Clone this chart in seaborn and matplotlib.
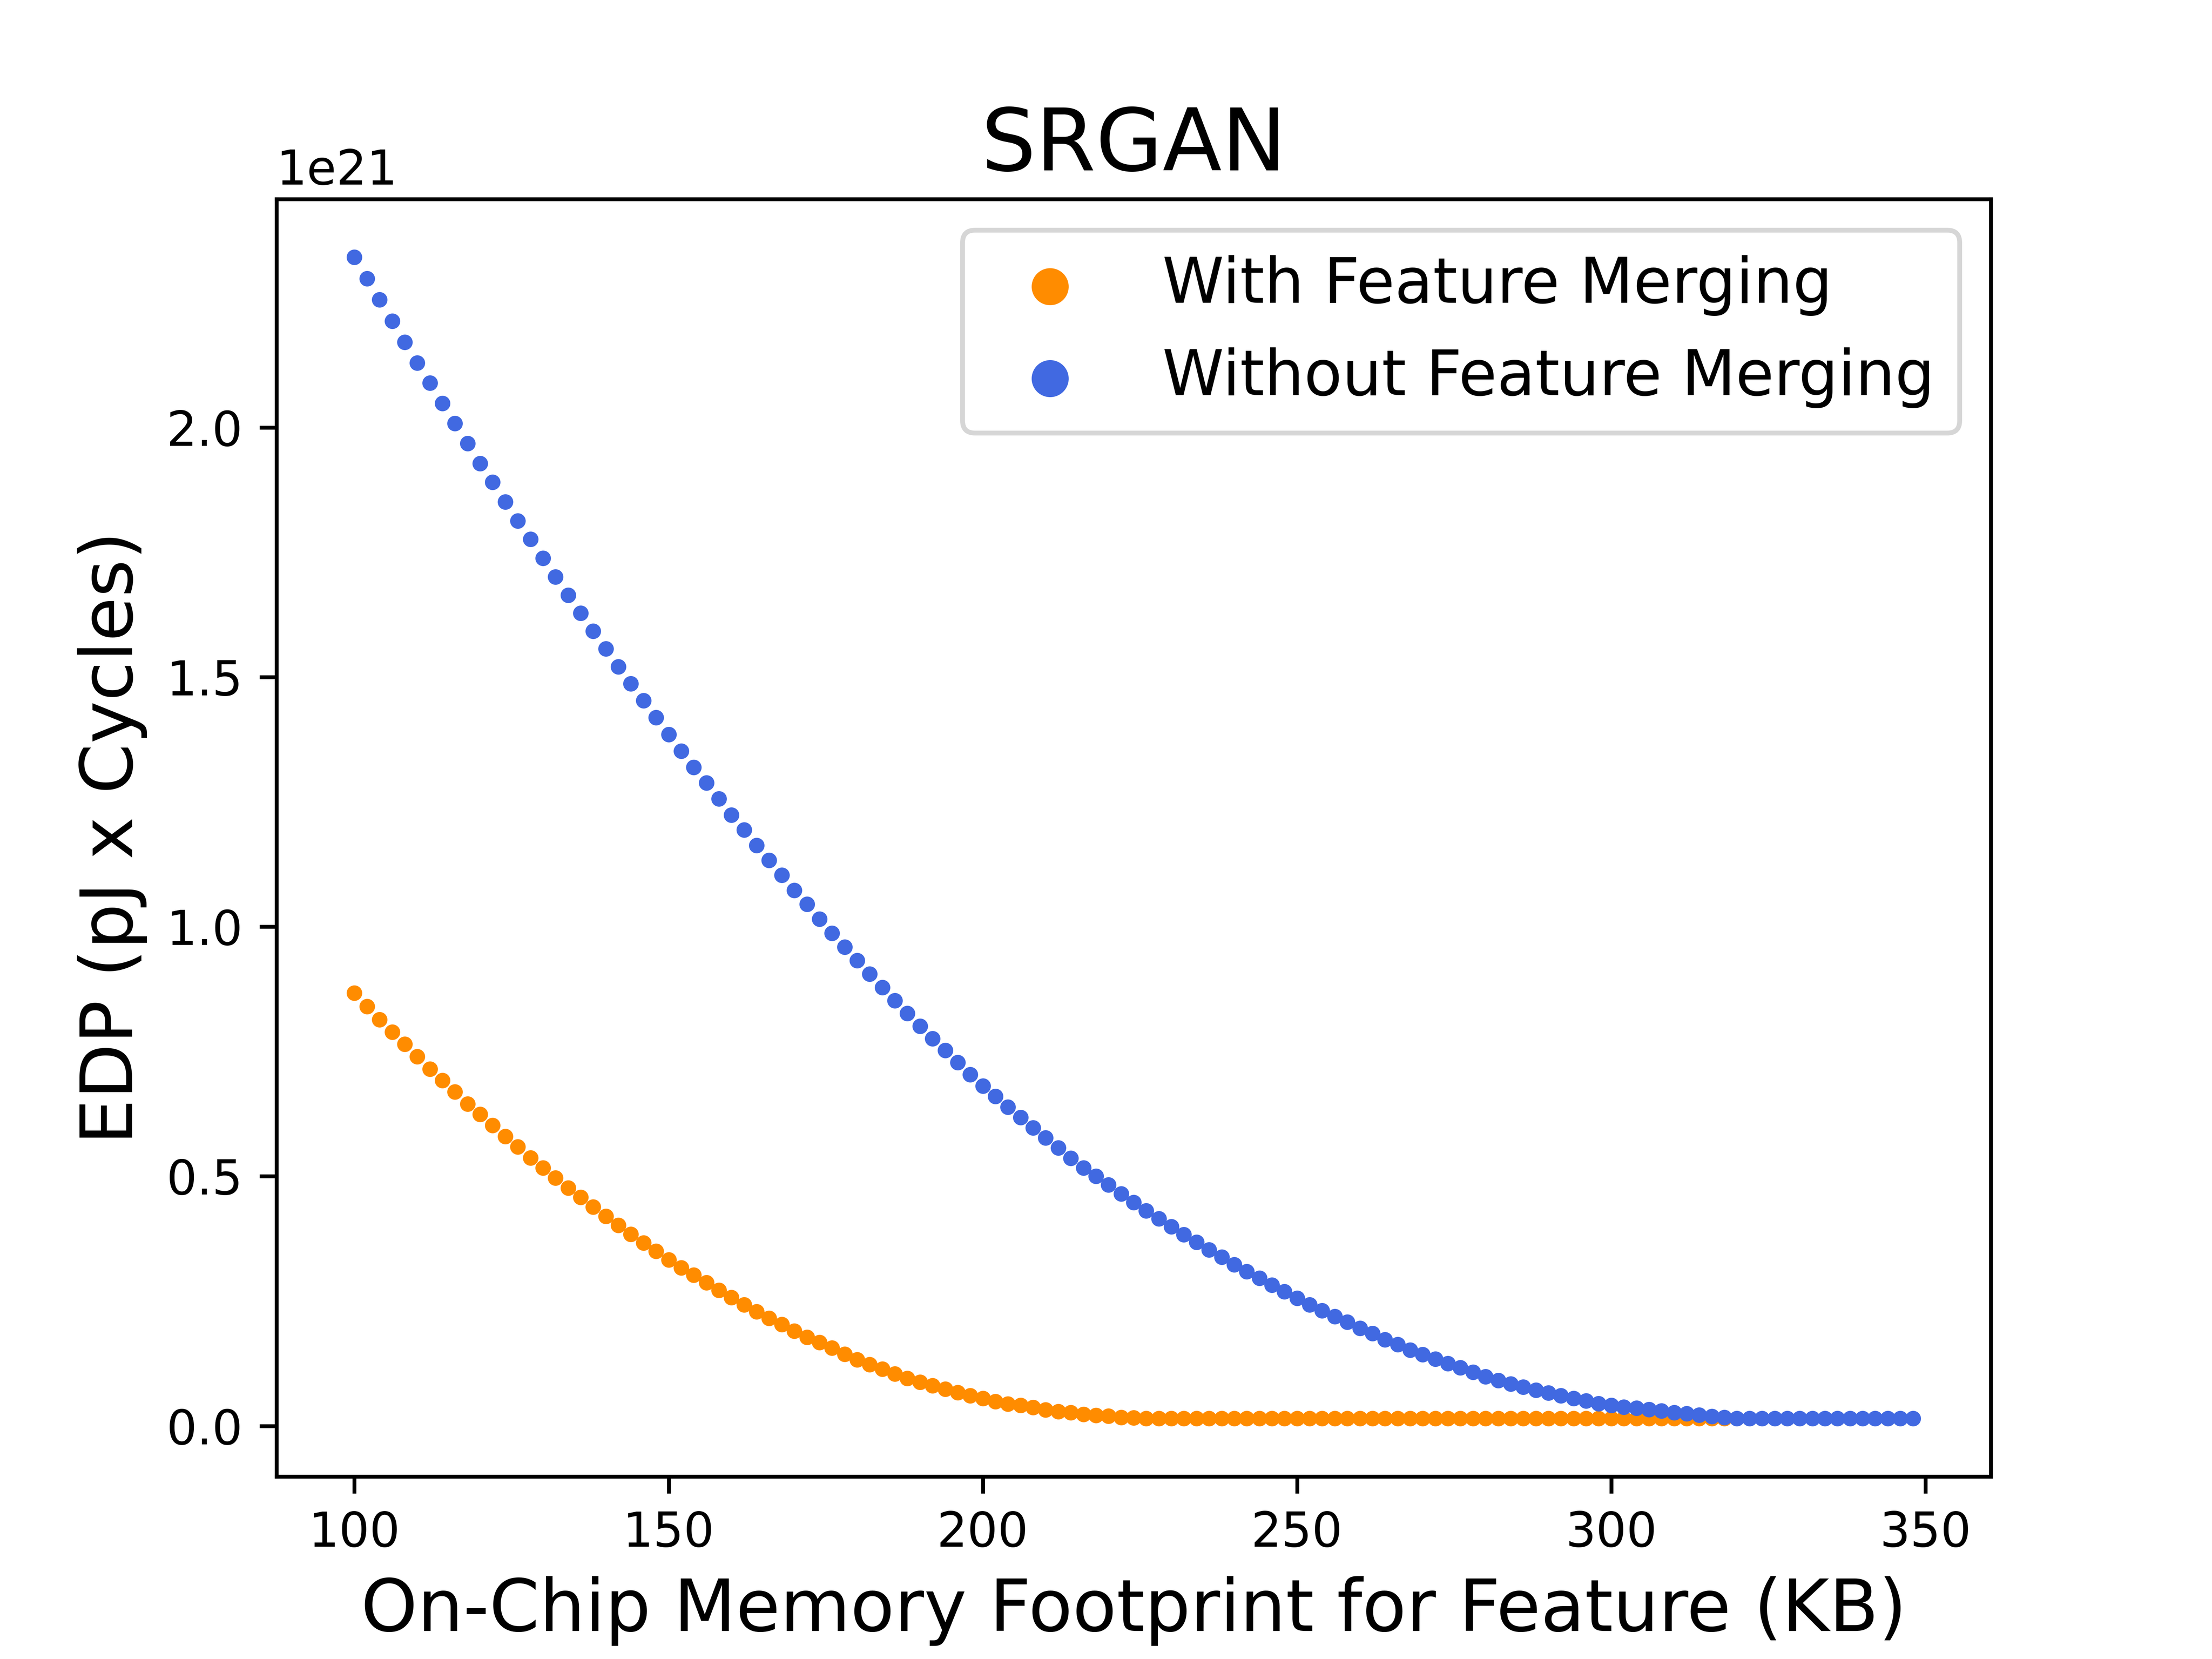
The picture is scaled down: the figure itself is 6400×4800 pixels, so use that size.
import matplotlib
matplotlib.use("Agg")
import matplotlib.pyplot as plt
import seaborn as sns
import pandas as pd

# ---- data (EDP values in units of 1e21) ----
x_with = [100, 102, 104, 106, 108, 110, 112, 114, 116, 118, 120, 122, 124, 126, 128, 130,
          132, 134, 136, 138, 140, 142, 144, 146, 148, 150, 152, 154, 156, 158, 160, 162,
          164, 166, 168, 170, 172, 174, 176, 178, 180, 182, 184, 186, 188, 190, 192, 194,
          196, 198, 200, 202, 204, 206, 208, 210, 212, 214, 216, 218, 220, 222, 224, 226,
          228, 230, 232, 234, 236, 238, 240, 242, 244, 246, 248, 250, 252, 254, 256, 258,
          260, 262, 264, 266, 268, 270, 272, 274, 276, 278, 280, 282, 284, 286, 288, 290,
          292, 294, 296, 298, 300, 302, 304, 306, 308, 310, 312, 314, 316, 318]
edp_with = [0.867, 0.840, 0.814, 0.789, 0.765, 0.740, 0.715, 0.692, 0.669, 0.645, 0.624,
            0.602, 0.580, 0.559, 0.537, 0.517, 0.497, 0.477, 0.458, 0.439, 0.420, 0.402,
            0.384, 0.367, 0.350, 0.333, 0.317, 0.302, 0.287, 0.272, 0.257, 0.243, 0.229,
            0.216, 0.203, 0.190, 0.178, 0.167, 0.156, 0.144, 0.133, 0.123, 0.114, 0.104,
            0.095, 0.088, 0.081, 0.074, 0.067, 0.061, 0.055, 0.049, 0.044, 0.041, 0.037,
            0.032, 0.029, 0.027, 0.023, 0.021, 0.020, 0.017, 0.0165, 0.015, 0.015, 0.015,
            0.015, 0.015, 0.015, 0.015, 0.015, 0.015, 0.015, 0.015, 0.015, 0.015, 0.015,
            0.015, 0.015, 0.015, 0.015, 0.015, 0.015, 0.015, 0.015, 0.015, 0.015, 0.015,
            0.015, 0.015, 0.015, 0.015, 0.015, 0.015, 0.015, 0.015, 0.015, 0.015, 0.015,
            0.015, 0.015, 0.015, 0.015, 0.015, 0.015, 0.015, 0.015, 0.015, 0.015, 0.015]

x_without = [100, 102, 104, 106, 108, 110, 112, 114, 116, 118, 120, 122, 124, 126, 128, 130,
             132, 134, 136, 138, 140, 142, 144, 146, 148, 150, 152, 154, 156, 158, 160, 162,
             164, 166, 168, 170, 172, 174, 176, 178, 180, 182, 184, 186, 188, 190, 192, 194,
             196, 198, 200, 202, 204, 206, 208, 210, 212, 214, 216, 218, 220, 222, 224, 226,
             228, 230, 232, 234, 236, 238, 240, 242, 244, 246, 248, 250, 252, 254, 256, 258,
             260, 262, 264, 266, 268, 270, 272, 274, 276, 278, 280, 282, 284, 286, 288, 290,
             292, 294, 296, 298, 300, 302, 304, 306, 308, 310, 312, 314, 316, 318, 320, 322,
             324, 326, 328, 330, 332, 334, 336, 338, 340, 342, 344, 346, 348]
edp_without = [2.341, 2.298, 2.256, 2.213, 2.171, 2.129, 2.089, 2.048, 2.008, 1.968, 1.928,
               1.890, 1.851, 1.813, 1.776, 1.738, 1.701, 1.664, 1.628, 1.592, 1.557, 1.521,
               1.487, 1.453, 1.419, 1.385, 1.352, 1.319, 1.288, 1.256, 1.224, 1.194, 1.163,
               1.133, 1.103, 1.073, 1.045, 1.015, 0.987, 0.959, 0.932, 0.905, 0.878, 0.852,
               0.826, 0.801, 0.776, 0.752, 0.728, 0.704, 0.681, 0.660, 0.639, 0.618, 0.597,
               0.577, 0.557, 0.536, 0.517, 0.500, 0.483, 0.465, 0.448, 0.431, 0.415, 0.399,
               0.383, 0.368, 0.353, 0.338, 0.323, 0.309, 0.296, 0.282, 0.269, 0.256, 0.243,
               0.231, 0.219, 0.208, 0.196, 0.185, 0.173, 0.163, 0.152, 0.143, 0.134, 0.125,
               0.117, 0.108, 0.099, 0.091, 0.084, 0.078, 0.072, 0.066, 0.061, 0.055, 0.050,
               0.045, 0.041, 0.038, 0.036, 0.033, 0.030, 0.027, 0.025, 0.022, 0.019, 0.017,
               0.015, 0.015, 0.015, 0.015, 0.015, 0.015, 0.015, 0.015, 0.015, 0.015, 0.015,
               0.015, 0.015, 0.015, 0.015]

series_labels = ["With Feature Merging", "Without Feature Merging"]
series_colors = ["darkorange", "royalblue"]
title_text = "SRGAN"
xlabel_text = "On-Chip Memory Footprint for Feature (KB)"
ylabel_text = "EDP (pJ x Cycles)"
unit = 1e21

df_with = pd.DataFrame({"x": x_with, "edp": [v * unit for v in edp_with]})
df_without = pd.DataFrame({"x": x_without, "edp": [v * unit for v in edp_without]})

fig, ax = plt.subplots(figsize=(6.4, 4.8), dpi=1000)

sns.scatterplot(data=df_with, x="x", y="edp", ax=ax, color=series_colors[0],
                s=5, edgecolor="face", linewidth=1, legend=False)
sns.scatterplot(data=df_without, x="x", y="edp", ax=ax, color=series_colors[1],
                s=5, edgecolor="face", linewidth=1, legend=False)

handles = list(ax.collections[:2])
ax.legend(handles, series_labels, loc="upper right", fontsize=13, markerscale=3)

ax.set_title(title_text, fontsize=18)
ax.set_xlabel(xlabel_text, fontsize=15)
ax.set_ylabel(ylabel_text, fontsize=15)

fig.savefig("out.png", dpi=1000)
